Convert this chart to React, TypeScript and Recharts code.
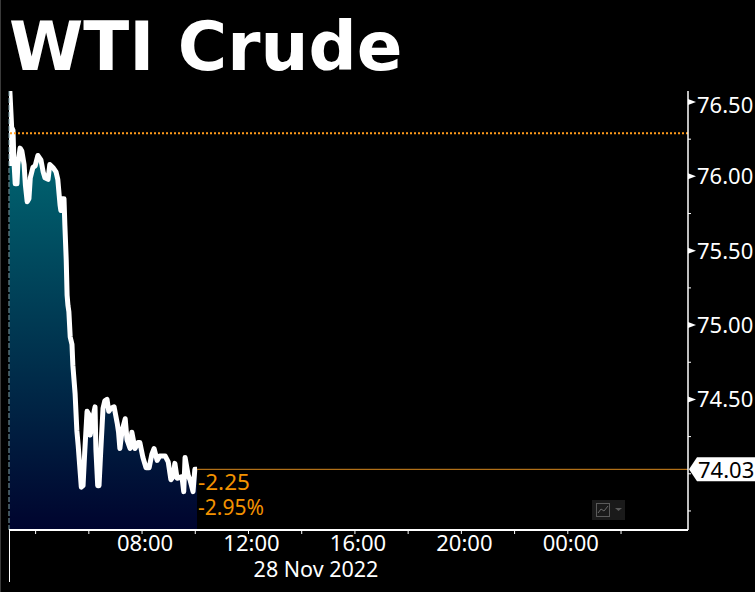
import React from "react";
import { ComposedChart, Area, XAxis, YAxis, ReferenceLine } from "recharts";

// minutes after midnight, 28 Nov 2022
const MINUTES = [
  181, 182, 186, 189, 191, 194, 198, 200, 205, 209, 214, 217, 221, 225, 228, 234, 239, 245, 252, 257,
  261, 268, 272, 279, 286, 290, 295, 297, 300, 304, 306, 309, 311, 313, 315, 318, 322, 324, 329, 333,
  336, 340, 343, 347, 351, 356, 360, 363, 367, 372, 374, 376, 380, 383, 387, 392, 396, 401, 405, 410,
  417, 424, 427, 430, 435, 442, 446, 453, 457, 464, 471, 475, 482, 489, 496, 502, 507, 514, 520, 532,
  539, 545, 550, 554, 559, 570, 574, 577, 584, 588, 595, 599, 604,
];
const PRICES = [
  76.07, 76.57, 76.33, 76.31, 76.11, 75.95, 75.95, 76.08, 76.19, 76.17, 76.08, 75.94, 75.83, 75.85, 75.99, 76.06, 76.07, 76.14, 76.11, 76.03,
  75.99, 75.98, 76.08, 76.06, 76.03, 75.98, 75.81, 75.77, 75.85, 75.85, 75.67, 75.44, 75.2, 75.13, 75.09, 74.92, 74.87, 74.73, 74.54, 74.29,
  74.19, 74.03, 73.91, 73.92, 74.16, 74.42, 74.4, 74.26, 74.33, 74.42, 74.45, 74.16, 73.92, 73.92, 74.16, 74.44, 74.49, 74.5, 74.42, 74.44,
  74.45, 74.34, 74.28, 74.17, 74.29, 74.37, 74.23, 74.17, 74.28, 74.17, 74.21, 74.21, 74.11, 74.04, 74.04, 74.13, 74.17, 74.09, 74.12, 74.12,
  74.08, 73.96, 73.98, 74.07, 73.97, 73.98, 73.88, 74.11, 73.99, 73.96, 73.88, 74.03, 74.03,
];

const X_TICKS = [240, 360, 480, 600, 720, 840, 960, 1080, 1200, 1320, 1440, 1560];
const X_LABELS: Record<number, string> = { 480: "08:00", 720: "12:00", 960: "16:00", 1200: "20:00", 1440: "00:00" };
const Y_TICKS = [73.75, 74, 74.25, 74.5, 74.75, 75, 75.25, 75.5, 75.75, 76, 76.25, 76.5];
const Y_LABELS: Record<string, string> = { "74.5": "74.50", "75": "75.00", "75.5": "75.50", "76": "76.00", "76.5": "76.50" };

const LAST_PRICE = 74.03;
const PREV_CLOSE = 76.29;
const NET_CHANGE = "-2.25";
const PCT_CHANGE = "-2.95%";
const DATE_LABEL = "28 Nov 2022";

const data = MINUTES.map((m, i) => ({ m, price: PRICES[i] }));

const FONT = "'Noto Sans', sans-serif";
const ORANGE = "#f39200";

const XTick = ({ x, y, payload }: any) => (
  <g>
    <line x1={x} x2={x} y1={y} y2={y + 4} stroke="#fff" />
    {X_LABELS[payload.value] && (
      <text x={x + 3} y={y + 21} textAnchor="middle" fontSize={22} fontFamily={FONT} fill="#fff">
        {X_LABELS[payload.value]}
      </text>
    )}
  </g>
);

const YTick = ({ x, y, payload }: any) => {
  const label = Y_LABELS[String(payload.value)];
  if (!label) return <line x1={x} x2={x + 3} y1={y} y2={y} stroke="#fff" />;
  // top label gets pushed down a bit in the original
  const dy = payload.value === 76.5 ? 11 : 8;
  return (
    <g>
      <polygon points={`${x},${y - 3} ${x + 8},${y} ${x},${y + 3}`} fill="#fff" />
      <text x={x + 9} y={y + dy} fontSize={22} fontFamily={FONT} fill="#fff">
        {label}
      </text>
    </g>
  );
};

const PriceFlag = ({ viewBox }: any) => {
  const x = viewBox.x + viewBox.width;
  const y = viewBox.y;
  return (
    <g>
      <polygon
        points={`${x + 1},${y} ${x + 9},${y - 12} ${x + 67},${y - 12} ${x + 67},${y + 12} ${x + 9},${y + 12}`}
        fill="#fff"
      />
      <text x={x + 10} y={y + 9} fontSize={22} fontFamily={FONT} fill="#000">
        {LAST_PRICE.toFixed(2)}
      </text>
    </g>
  );
};

const App = () => (
  <div style={{ position: "absolute", left: 0, top: 0, width: 755, height: 592, background: "#000", overflow: "hidden" }}>
    <div style={{ position: "absolute", left: 0, top: 0, width: 1, height: 592, background: "#3a3a3a" }} />
    <div
      style={{
        position: "absolute",
        left: 9,
        top: 8,
        color: "#fff",
        fontFamily: "'DejaVu Sans'",
        fontWeight: 700,
        fontSize: 67.4,
        lineHeight: "78px",
        whiteSpace: "nowrap",
      }}
    >
      WTI Crude
    </div>

    <ComposedChart width={755} height={592} data={data} margin={{ top: 91, right: 0, bottom: 0, left: 9 }}>
      <defs>
        <linearGradient id="areaFill" gradientUnits="userSpaceOnUse" x1="0" y1="165" x2="0" y2="530">
          <stop offset="0" stopColor="#00626f" />
          <stop offset="1" stopColor="#00042e" />
        </linearGradient>
      </defs>
      <XAxis
        dataKey="m"
        type="number"
        domain={[180, 1711]}
        allowDataOverflow
        ticks={X_TICKS}
        interval={0}
        height={62}
        stroke="#fff"
        strokeWidth={2}
        tickLine={false}
        tickSize={0}
        tickMargin={0}
        tick={<XTick />}
      />
      <YAxis
        orientation="right"
        type="number"
        domain={[73.622, 76.574]}
        allowDataOverflow
        ticks={Y_TICKS}
        interval={0}
        width={67}
        stroke="#fff"
        strokeWidth={1.5}
        tickLine={false}
        tickSize={0}
        tickMargin={0}
        tick={<YTick />}
      />
      <Area
        dataKey="price"
        type="linear"
        stroke="#fff"
        strokeWidth={5}
        strokeLinejoin="round"
        fill="url(#areaFill)"
        fillOpacity={1}
        dot={false}
        activeDot={false}
        isAnimationActive={false}
      />
      <ReferenceLine x={180} stroke="#7fa3ad" strokeDasharray="5 2" />
      <ReferenceLine y={PREV_CLOSE} stroke="#ff9a1a" strokeWidth={2} strokeDasharray="2 2" />
      <ReferenceLine
        segment={[
          { x: 604, y: LAST_PRICE },
          { x: 1711, y: LAST_PRICE },
        ]}
        stroke="#d98a1e"
        strokeWidth={1}
      />
      <ReferenceLine y={LAST_PRICE} stroke="none" label={<PriceFlag />} />
      <line x1={9.5} x2={9.5} y1={530} y2={582} stroke="#fff" />
      <text x={198} y={490} fontSize={22.5} fontFamily={FONT} fill={ORANGE}>
        {NET_CHANGE}
      </text>
      <text x={198} y={515} fontSize={21} fontFamily={FONT} fill={ORANGE}>
        {PCT_CHANGE}
      </text>
      <text x={316} y={577} textAnchor="middle" fontSize={21.5} fontFamily={FONT} fill="#fff">
        {DATE_LABEL}
      </text>
      <g>
        <rect x={592} y={500} width={33} height={20} fill="#1a1a1a" />
        <rect x={596.5} y={503.5} width={13} height={13} fill="none" stroke="#5a5a5a" />
        <polyline points="598,513 601,509 604,511 608,506" fill="none" stroke="#6a6a6a" />
        <polygon points="615,508 622,508 618.5,511" fill="#5a5a5a" />
      </g>
    </ComposedChart>
  </div>
);

export default App;
